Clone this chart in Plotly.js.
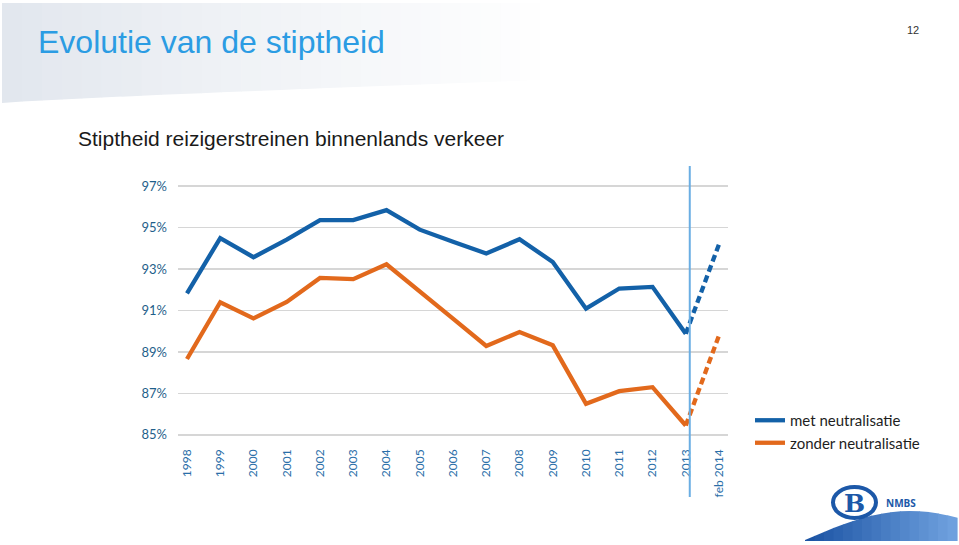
<!DOCTYPE html>
<html>
<head>
<meta charset="utf-8">
<script src="https://cdn.plot.ly/plotly-3.0.1.min.js"></script>
<style>
  html, body { margin: 0; padding: 0; background: #ffffff; }
  #chart { width: 959px; height: 545px; }
</style>
</head>
<body>
<div id="chart"></div>
<script>
// ---- data ----
const categories = ['1998','1999','2000','2001','2002','2003','2004','2005','2006','2007','2008','2009','2010','2011','2012','2013','feb 2014'];
const metNeutralisatie    = [91.83, 94.49, 93.57, 94.42, 95.36, 95.36, 95.84, 94.90, 94.32, 93.75, 94.44, 93.34, 91.09, 92.06, 92.14, 89.88];
const zonderNeutralisatie = [88.66, 91.40, 90.62, 91.41, 92.57, 92.51, 93.23, 91.95, 90.61, 89.29, 89.96, 89.32, 86.50, 87.11, 87.30, 85.45];
const metFeb2014 = 94.2;
const zonderFeb2014 = 89.8;
const yTickValues = [85, 87, 89, 91, 93, 95, 97];
const yTickLabels = yTickValues.map(v => v + '%');
const seriesNames = ['met neutralisatie', 'zonder neutralisatie'];

// ---- styles ----
const BLUE = '#1361a8';
const ORANGE = '#e2691c';
const idx = categories.map((c, i) => i);
const lastYear = categories.length - 2;

// pixel -> paper helpers for decorations
const L = 178, W = 550, T = 182, H = 257;
const px = v => (v - L) / W;
const py = v => (T + H - v) / H;

const traces = [
  { x: idx.slice(0, metNeutralisatie.length), y: metNeutralisatie, name: seriesNames[0], type: 'scatter', mode: 'lines',
    line: { color: BLUE, width: 4.3 }, hoverinfo: 'skip' },
  { x: idx.slice(0, zonderNeutralisatie.length), y: zonderNeutralisatie, name: seriesNames[1], type: 'scatter', mode: 'lines',
    line: { color: ORANGE, width: 4.3 }, hoverinfo: 'skip' },
  { x: [lastYear, lastYear + 1], y: [metNeutralisatie[lastYear], metFeb2014], type: 'scatter', mode: 'lines', showlegend: false,
    line: { color: BLUE, width: 4.3, dash: '7px,4px' }, hoverinfo: 'skip' },
  { x: [lastYear, lastYear + 1], y: [zonderNeutralisatie[lastYear], zonderFeb2014], type: 'scatter', mode: 'lines', showlegend: false,
    line: { color: ORANGE, width: 4.3, dash: '7px,4px' }, hoverinfo: 'skip' }
];

// header gradient band
const shapes = [];
const bandLeft = 2, bandRight = 600, bandTop = 3;
const bottomAt = x => 103 - 25 * Math.pow((x - bandLeft) / (bandRight - bandLeft), 0.85);
const nSlices = 30;
const c0 = [226, 231, 238];
for (let i = 0; i < nSlices; i++) {
  const xa = bandLeft + (bandRight - bandLeft) * i / nSlices;
  const xb = bandLeft + (bandRight - bandLeft) * (i + 1) / nSlices + 0.6;
  const t = Math.min(1, i / (nSlices - 3));
  const col = c0.map(c => Math.round(c + (255 - c) * Math.pow(t, 0.9)));
  shapes.push({
    type: 'path', xref: 'paper', yref: 'paper', layer: 'below',
    path: `M ${px(xa)} ${py(bandTop)} L ${px(xb)} ${py(bandTop)} L ${px(xb)} ${py(bottomAt(xb))} L ${px(xa)} ${py(bottomAt(xa))} Z`,
    fillcolor: `rgb(${col[0]},${col[1]},${col[2]})`, line: { width: 0 }
  });
}

// vertical marker line between 2013 and feb 2014
shapes.push({ type: 'line', xref: 'x', yref: 'paper', x0: 15.12, x1: 15.12, y0: py(166), y1: py(497),
  line: { color: '#6aaee3', width: 2 } });

// NMBS logo: hill
const hillSlices = 16;
const hill = x => {
  const u = (x - 805) / (957 - 805);
  return 540 - 29 * Math.sin(u * Math.PI * 0.72);
};
for (let i = 0; i < hillSlices; i++) {
  const t = i / (hillSlices - 1);
  const a = [28, 84, 164], b = [110, 160, 222];
  const col = a.map((c, k) => Math.round(c + (b[k] - c) * t));
  const xa = 805 + (957 - 805) * i / hillSlices;
  const xb = 805 + (957 - 805) * (i + 1) / hillSlices + 0.6;
  shapes.push({ type: 'path', xref: 'paper', yref: 'paper',
    path: `M ${px(xa)} ${py(541)} L ${px(xa)} ${py(hill(xa))} L ${px(xb)} ${py(hill(xb))} L ${px(xb)} ${py(541)} Z`,
    fillcolor: `rgb(${col[0]},${col[1]},${col[2]})`, line: { width: 0 } });
}
// logo ellipse
shapes.push({ type: 'circle', xref: 'paper', yref: 'paper', x0: px(833), x1: px(876), y0: py(518), y1: py(487),
  fillcolor: '#ffffff', line: { color: '#1c58a8', width: 4 } });

const annotations = [
  { xref: 'paper', yref: 'paper', x: px(36), y: py(42), xanchor: 'left', yanchor: 'middle', showarrow: false,
    text: 'Evolutie van de stiptheid', font: { family: 'Liberation Sans, Arial, sans-serif', size: 32, color: '#2b9ce3' } },
  { xref: 'paper', yref: 'paper', x: px(76), y: py(138), xanchor: 'left', yanchor: 'middle', showarrow: false,
    text: 'Stiptheid reizigerstreinen binnenlands verkeer', font: { family: 'Liberation Sans, Arial, sans-serif', size: 21, color: '#1a1a1a' } },
  { xref: 'paper', yref: 'paper', x: px(913), y: py(30), xanchor: 'center', yanchor: 'middle', showarrow: false,
    text: '12', font: { family: 'Liberation Sans, Arial, sans-serif', size: 11, color: '#333333' } },
  { xref: 'paper', yref: 'paper', x: px(854.5), y: py(503), xanchor: 'center', yanchor: 'middle', showarrow: false,
    text: '<b>B</b>', font: { family: 'DejaVu Serif, serif', size: 25, color: '#1c58a8' } },
  { xref: 'paper', yref: 'paper', x: px(884), y: py(503), xanchor: 'left', yanchor: 'middle', showarrow: false,
    text: '<b>NMBS</b>', font: { family: 'Open Sans, sans-serif', size: 10, color: '#1c58a8' } }
];

const layout = {
  width: 959, height: 545,
  margin: { l: L, r: 959 - L - W, t: T, b: 545 - T - H, pad: 0 },
  paper_bgcolor: '#ffffff', plot_bgcolor: 'rgba(0,0,0,0)',
  showlegend: true,
  legend: { x: px(750), y: py(404), xanchor: 'left', yanchor: 'top', bgcolor: 'rgba(0,0,0,0)',
    font: { family: 'Lato, Open Sans, sans-serif', size: 15, color: '#1e1e1e' }, itemwidth: 30, tracegroupgap: 0 },
  xaxis: {
    type: 'linear', range: [-0.27, 16.27], tickmode: 'array', tickvals: idx, ticktext: categories,
    tickangle: -90, showgrid: false, zeroline: false, showline: false, ticks: '', ticklabelstandoff: 7,
    tickfont: { family: 'Lato, Open Sans, sans-serif', size: 12, color: '#2a6ea8' }, fixedrange: true
  },
  yaxis: {
    range: [84.8, 97.2], tickmode: 'array', tickvals: yTickValues, ticktext: yTickLabels,
    showgrid: true, gridcolor: '#d6d6d6', gridwidth: 1.5, zeroline: false, showline: false, ticks: '',
    ticklabelstandoff: 10,
    tickfont: { family: 'Lato, Open Sans, sans-serif', size: 13, color: '#1f5f8b' }, fixedrange: true
  },
  shapes: shapes,
  annotations: annotations
};

Plotly.newPlot('chart', traces, layout, { displayModeBar: false, staticPlot: true });
</script>
</body>
</html>
